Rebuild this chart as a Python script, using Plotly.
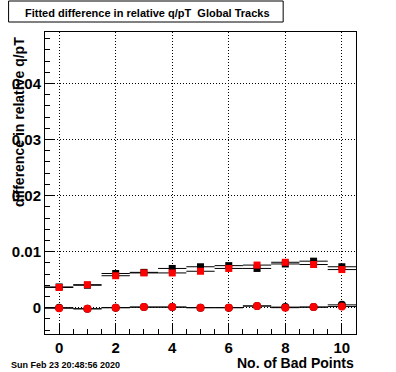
import plotly.graph_objects as go

x_vals = [0, 1, 2, 3, 4, 5, 6, 7, 8, 9, 10]
black_sq = [0.0037, 0.0040, 0.0061, 0.0063, 0.0070, 0.0073, 0.0075, 0.0070, 0.0078, 0.0083, 0.0073]
red_sq = [0.0036, 0.0041, 0.0057, 0.0062, 0.0062, 0.0065, 0.0070, 0.0076, 0.0081, 0.0077, 0.0068]
black_c = [0.0000, -0.0002, 0.0000, 0.0001, 0.0001, 0.0000, 0.0000, 0.0003, 0.0001, 0.0001, 0.0005]
red_c = [-0.0001, -0.0002, 0.0000, 0.0001, 0.0001, 0.0000, 0.0000, 0.0003, 0.0000, 0.0001, 0.0002]
x_err = [0.5] * len(x_vals)
y_tickvals = [0, 0.01, 0.02, 0.03, 0.04]
y_ticktext = ["0", "0.01", "0.02", "0.03", "0.04"]
x_tickvals = [0, 2, 4, 6, 8, 10]

FONT = "Liberation Sans"

def trace(y, color, symbol, size):
    return go.Scatter(
        x=x_vals, y=y, mode="markers",
        marker=dict(color=color, symbol=symbol, size=size, line=dict(width=0)),
        error_x=dict(type="data", array=x_err, color="black", thickness=1, width=0),
        showlegend=False, hoverinfo="skip",
    )

fig = go.Figure()
fig.add_trace(trace(black_sq, "black", "square", 7))
fig.add_trace(trace(red_sq, "red", "square", 7))
fig.add_trace(trace(black_c, "black", "circle", 8))
fig.add_trace(trace(red_c, "red", "circle", 8))

L, R, T, B = 40, 40, 32, 38
W, H = 396, 372
pw, ph = W - L - R, H - T - B

def px(xp):
    return (xp - L) / pw

def py(yp):
    return (H - B - yp) / ph

DOT = "1px,2px"

fig.update_layout(
    width=W, height=H,
    margin=dict(l=L, r=R, t=T, b=B, pad=0),
    paper_bgcolor="white", plot_bgcolor="white",
    font=dict(family=FONT, color="black"),
    xaxis=dict(
        range=[-0.5, 10.5], tickvals=x_tickvals,
        ticks="inside", ticklen=11, tickwidth=1, tickcolor="black",
        minor=dict(dtick=0.5, ticks="inside", ticklen=5, tickcolor="black", showgrid=False),
        showgrid=True, gridcolor="black", griddash=DOT, gridwidth=1,
        zeroline=False, showline=True, linecolor="black", linewidth=1, mirror=True,
        tickfont=dict(family=FONT, size=15, weight="bold"),
    ),
    yaxis=dict(
        range=[-0.0047, 0.0492], tickvals=y_tickvals, ticktext=y_ticktext,
        ticks="inside", ticklen=10, tickwidth=1, tickcolor="black",
        minor=dict(dtick=0.002, ticks="inside", ticklen=5, tickcolor="black", showgrid=False),
        showgrid=True, gridcolor="black", griddash=DOT, gridwidth=1,
        zeroline=False, showline=True, linecolor="black", linewidth=1, mirror=True,
        tickfont=dict(family=FONT, size=15, weight="bold"),
    ),
    shapes=[
        dict(type="rect", xref="paper", yref="paper",
             x0=px(3), x1=px(282), y0=py(22), y1=py(1),
             line=dict(color="black", width=1), fillcolor="white"),
    ],
    annotations=[
        dict(text="Fitted difference in relative q/pT  Global Tracks",
             xref="paper", yref="paper", x=px(18), y=py(12.5),
             xanchor="left", yanchor="middle", showarrow=False,
             font=dict(family=FONT, size=11, weight="bold")),
        dict(text="difference in relative q/pT",
             xref="paper", yref="paper", x=px(13.5), y=py(122),
             xanchor="center", yanchor="middle", textangle=-90, showarrow=False,
             font=dict(family=FONT, size=14, weight="bold")),
        dict(text="No. of Bad Points",
             xref="paper", yref="paper", x=px(356), y=py(363),
             xanchor="right", yanchor="middle", showarrow=False,
             font=dict(family=FONT, size=14, weight="bold")),
        dict(text="Sun Feb 23 20:48:56 2020",
             xref="paper", yref="paper", x=px(3), y=py(365),
             xanchor="left", yanchor="middle", showarrow=False,
             font=dict(family=FONT, size=9, weight="bold")),
    ],
)

fig.write_html("out.html", config={"displayModeBar": False},
               post_script="document.body.style.margin='0';document.body.style.overflow='hidden';")
